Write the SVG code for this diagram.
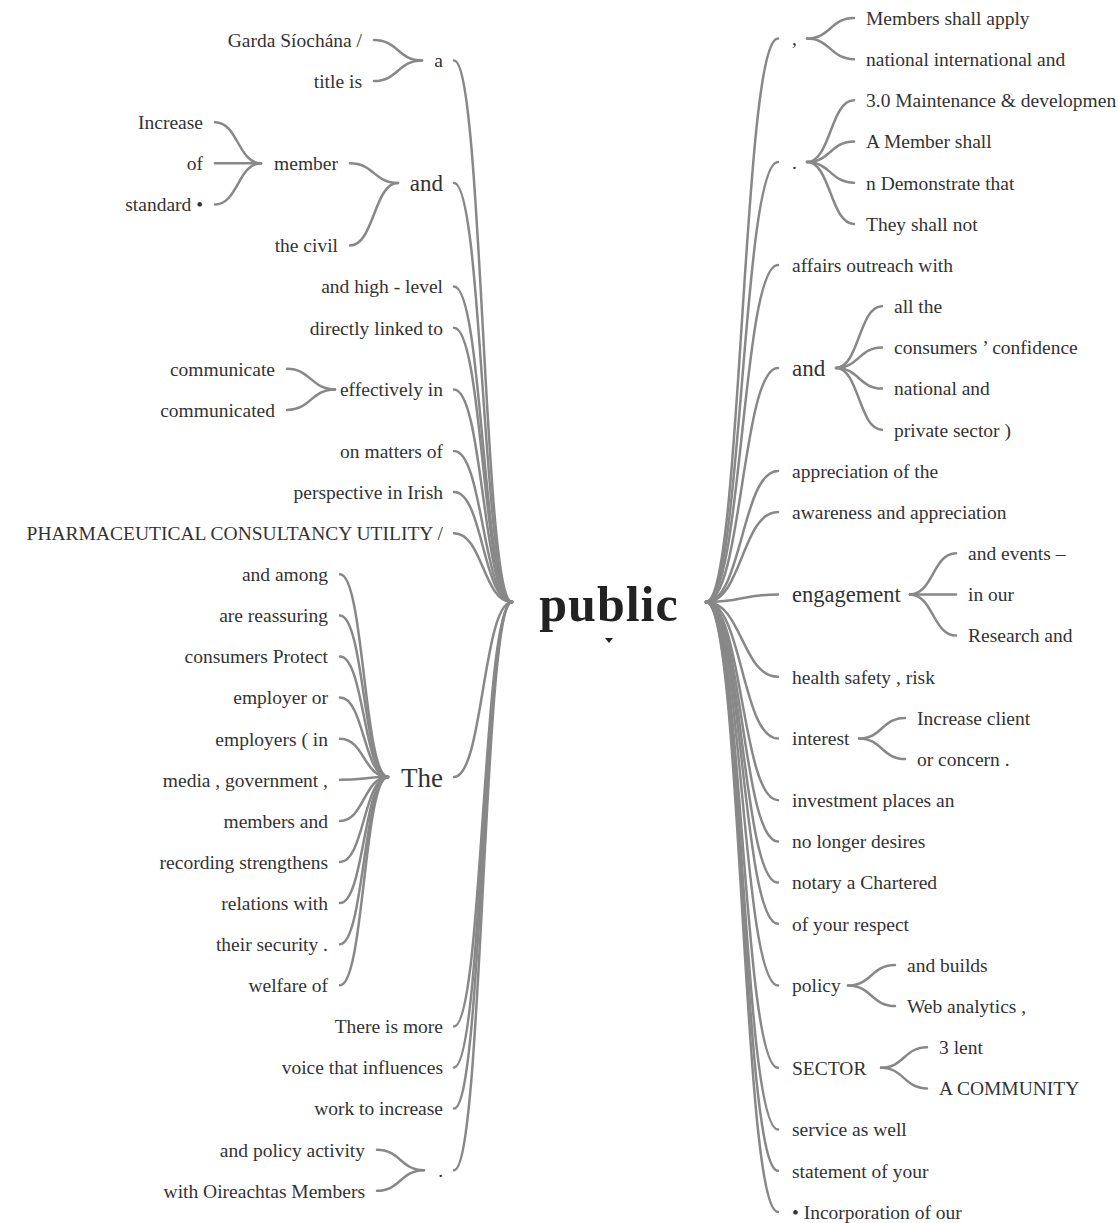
<svg xmlns="http://www.w3.org/2000/svg" width="1118" height="1223" viewBox="0 0 1118 1223">
<style>
text{font-family:"Liberation Serif","DejaVu Serif",serif;font-size:19.5px;fill:#333}
.e{text-anchor:end}
.b23{font-size:23px}
.b22{font-size:22.5px}
.b27{font-size:27px}
.root{font-size:50px;font-weight:bold;fill:#222;text-anchor:middle;letter-spacing:1px}
#links path{fill:none;stroke:#888;stroke-width:2.5;stroke-linecap:round}
</style>
<rect width="1118" height="1223" fill="#fff"/>
<g id="links">
<!-- root to left level 1 -->
<path d="M454,60.5 C483,60.5 483,602 512,602"/>
<path d="M454,183 C483,183 483,602 512,602"/>
<path d="M454,286.6 C483,286.6 483,602 512,602"/>
<path d="M454,327.7 C483,327.7 483,602 512,602"/>
<path d="M454,389.4 C483,389.4 483,602 512,602"/>
<path d="M454,451 C483,451 483,602 512,602"/>
<path d="M454,492.1 C483,492.1 483,602 512,602"/>
<path d="M454,533.2 C483,533.2 483,602 512,602"/>
<path d="M454,777 C483,777 483,602 512,602"/>
<path d="M454,1026.4 C483,1026.4 483,602 512,602"/>
<path d="M454,1067.5 C483,1067.5 483,602 512,602"/>
<path d="M454,1108.6 C483,1108.6 483,602 512,602"/>
<path d="M454,1170.2 C483,1170.2 483,602 512,602"/>
<!-- root to right level 1 -->
<path d="M706,602 C742,602 742,38.6 778,38.6"/>
<path d="M706,602 C742,602 742,162.1 778,162.1"/>
<path d="M706,602 C742,602 742,265 778,265"/>
<path d="M706,602 C742,602 742,367.9 778,367.9"/>
<path d="M706,602 C742,602 742,470.9 778,470.9"/>
<path d="M706,602 C742,602 742,512 778,512"/>
<path d="M706,602 C742,602 742,594.4 778,594.4"/>
<path d="M706,602 C742,602 742,676.7 778,676.7"/>
<path d="M706,602 C742,602 742,738.5 778,738.5"/>
<path d="M706,602 C742,602 742,800.2 778,800.2"/>
<path d="M706,602 C742,602 742,841.4 778,841.4"/>
<path d="M706,602 C742,602 742,882.6 778,882.6"/>
<path d="M706,602 C742,602 742,923.7 778,923.7"/>
<path d="M706,602 C742,602 742,985.5 778,985.5"/>
<path d="M706,602 C742,602 742,1067.8 778,1067.8"/>
<path d="M706,602 C742,602 742,1129.6 778,1129.6"/>
<path d="M706,602 C742,602 742,1170.8 778,1170.8"/>
<path d="M706,602 C742,602 742,1211.9 778,1211.9"/>
<!-- left level 2 -->
<path d="M422,60.5 C398,60.5 398,40 374,40"/>
<path d="M422,60.5 C398,60.5 398,81.1 374,81.1"/>
<path d="M398,183 C374,183 374,163.3 350,163.3"/>
<path d="M398,183 C374,183 374,245.5 350,245.5"/>
<path d="M261,163.3 C238,163.3 238,122.2 215,122.2"/>
<path d="M261,163.3 C238,163.3 238,163.3 215,163.3"/>
<path d="M261,163.3 C238,163.3 238,204.4 215,204.4"/>
<path d="M335,389.4 C311,389.4 311,368.8 287,368.8"/>
<path d="M335,389.4 C311,389.4 311,409.9 287,409.9"/>
<path d="M388,777 C364,777 364,574.3 340,574.3"/>
<path d="M388,777 C364,777 364,615.4 340,615.4"/>
<path d="M388,777 C364,777 364,656.5 340,656.5"/>
<path d="M388,777 C364,777 364,697.6 340,697.6"/>
<path d="M388,777 C364,777 364,738.7 340,738.7"/>
<path d="M388,777 C364,777 364,779.8 340,779.8"/>
<path d="M388,777 C364,777 364,820.9 340,820.9"/>
<path d="M388,777 C364,777 364,862 340,862"/>
<path d="M388,777 C364,777 364,903.1 340,903.1"/>
<path d="M388,777 C364,777 364,944.2 340,944.2"/>
<path d="M388,777 C364,777 364,985.3 340,985.3"/>
<path d="M424,1170.2 C400.5,1170.2 400.5,1149.7 377,1149.7"/>
<path d="M424,1170.2 C400.5,1170.2 400.5,1190.8 377,1190.8"/>
<!-- right level 2 -->
<path d="M807,38.6 C830.5,38.6 830.5,18 854,18"/>
<path d="M807,38.6 C830.5,38.6 830.5,59.2 854,59.2"/>
<path d="M807,162.1 C830.5,162.1 830.5,100.3 854,100.3"/>
<path d="M807,162.1 C830.5,162.1 830.5,141.5 854,141.5"/>
<path d="M807,162.1 C830.5,162.1 830.5,182.7 854,182.7"/>
<path d="M807,162.1 C830.5,162.1 830.5,223.9 854,223.9"/>
<path d="M836,367.9 C859,367.9 859,306.2 882,306.2"/>
<path d="M836,367.9 C859,367.9 859,347.4 882,347.4"/>
<path d="M836,367.9 C859,367.9 859,388.5 882,388.5"/>
<path d="M836,367.9 C859,367.9 859,429.7 882,429.7"/>
<path d="M910,594.4 C933,594.4 933,553.2 956,553.2"/>
<path d="M910,594.4 C933,594.4 933,594.4 956,594.4"/>
<path d="M910,594.4 C933,594.4 933,635.6 956,635.6"/>
<path d="M859,738.5 C882,738.5 882,717.9 905,717.9"/>
<path d="M859,738.5 C882,738.5 882,759.1 905,759.1"/>
<path d="M848,985.5 C871.5,985.5 871.5,964.9 895,964.9"/>
<path d="M848,985.5 C871.5,985.5 871.5,1006.1 895,1006.1"/>
<path d="M881,1067.8 C904,1067.8 904,1047.3 927,1047.3"/>
<path d="M881,1067.8 C904,1067.8 904,1088.4 927,1088.4"/>
</g>
<g id="n-root"><text class="root" x="609" y="621">public</text><polygon points="605,638 613,638 609,643" fill="#222"/></g>
<!-- left side -->
<g id="n-L-a"><text class="e" x="443" y="67.3">a</text></g>
<g id="n-L-a-1"><text class="e" x="362" y="46.8">Garda Síochána /</text></g>
<g id="n-L-a-2"><text class="e" x="362" y="87.9">title is</text></g>
<g id="n-L-and"><text class="e b23" x="443" y="191">and</text></g>
<g id="n-L-member"><text class="e" x="338" y="170.1">member</text></g>
<g id="n-L-member-1"><text class="e" x="203" y="129">Increase</text></g>
<g id="n-L-member-2"><text class="e" x="203" y="170.1">of</text></g>
<g id="n-L-member-3"><text class="e" x="203" y="211.2">standard •</text></g>
<g id="n-L-civil"><text class="e" x="338" y="252.3">the civil</text></g>
<g id="n-L-highlevel"><text class="e" x="443" y="293.4">and high - level</text></g>
<g id="n-L-directly"><text class="e" x="443" y="334.5">directly linked to</text></g>
<g id="n-L-effectively"><text class="e" x="443" y="396.2">effectively in</text></g>
<g id="n-L-eff-1"><text class="e" x="275" y="375.6">communicate</text></g>
<g id="n-L-eff-2"><text class="e" x="275" y="416.7">communicated</text></g>
<g id="n-L-matters"><text class="e" x="443" y="457.8">on matters of</text></g>
<g id="n-L-perspective"><text class="e" x="443" y="498.9">perspective in Irish</text></g>
<g id="n-L-pharma"><text class="e" x="443" y="540">PHARMACEUTICAL CONSULTANCY UTILITY /</text></g>
<g id="n-L-the"><text class="e b27" x="443" y="786.5">The</text></g>
<g id="n-L-the-1"><text class="e" x="328" y="581.1">and among</text></g>
<g id="n-L-the-2"><text class="e" x="328" y="622.2">are reassuring</text></g>
<g id="n-L-the-3"><text class="e" x="328" y="663.3">consumers Protect</text></g>
<g id="n-L-the-4"><text class="e" x="328" y="704.4">employer or</text></g>
<g id="n-L-the-5"><text class="e" x="328" y="745.5">employers ( in</text></g>
<g id="n-L-the-6"><text class="e" x="328" y="786.6">media , government ,</text></g>
<g id="n-L-the-7"><text class="e" x="328" y="827.7">members and</text></g>
<g id="n-L-the-8"><text class="e" x="328" y="868.8">recording strengthens</text></g>
<g id="n-L-the-9"><text class="e" x="328" y="909.9">relations with</text></g>
<g id="n-L-the-10"><text class="e" x="328" y="951">their security .</text></g>
<g id="n-L-the-11"><text class="e" x="328" y="992.1">welfare of</text></g>
<g id="n-L-more"><text class="e" x="443" y="1033.2">There is more</text></g>
<g id="n-L-voice"><text class="e" x="443" y="1074.3">voice that influences</text></g>
<g id="n-L-work"><text class="e" x="443" y="1115.4">work to increase</text></g>
<g id="n-L-dot"><text class="e" x="443" y="1177">.</text></g>
<g id="n-L-dot-1"><text class="e" x="365" y="1156.5">and policy activity</text></g>
<g id="n-L-dot-2"><text class="e" x="365" y="1197.6">with Oireachtas Members</text></g>
<!-- right side -->
<g id="n-R-comma"><text x="792" y="45.4">,</text></g>
<g id="n-R-comma-1"><text x="866" y="24.8">Members shall apply</text></g>
<g id="n-R-comma-2"><text x="866" y="66">national international and</text></g>
<g id="n-R-dot"><text x="792" y="168.9">.</text></g>
<g id="n-R-dot-1"><text x="866" y="107.1">3.0 Maintenance &amp; developmen</text></g>
<g id="n-R-dot-2"><text x="866" y="148.3">A Member shall</text></g>
<g id="n-R-dot-3"><text x="866" y="189.5">n Demonstrate that</text></g>
<g id="n-R-dot-4"><text x="866" y="230.7">They shall not</text></g>
<g id="n-R-affairs"><text x="792" y="271.8">affairs outreach with</text></g>
<g id="n-R-and"><text class="b23" x="792" y="376">and</text></g>
<g id="n-R-and-1"><text x="894" y="313">all the</text></g>
<g id="n-R-and-2"><text x="894" y="354.2">consumers ’ confidence</text></g>
<g id="n-R-and-3"><text x="894" y="395.3">national and</text></g>
<g id="n-R-and-4"><text x="894" y="436.5">private sector )</text></g>
<g id="n-R-appreciation"><text x="792" y="477.7">appreciation of the</text></g>
<g id="n-R-awareness"><text x="792" y="518.8">awareness and appreciation</text></g>
<g id="n-R-engagement"><text class="b22" x="792" y="602.3">engagement</text></g>
<g id="n-R-eng-1"><text x="968" y="560">and events –</text></g>
<g id="n-R-eng-2"><text x="968" y="601.2">in our</text></g>
<g id="n-R-eng-3"><text x="968" y="642.4">Research and</text></g>
<g id="n-R-health"><text x="792" y="683.5">health safety , risk</text></g>
<g id="n-R-interest"><text x="792" y="745.3">interest</text></g>
<g id="n-R-int-1"><text x="917" y="724.7">Increase client</text></g>
<g id="n-R-int-2"><text x="917" y="765.9">or concern .</text></g>
<g id="n-R-investment"><text x="792" y="807">investment places an</text></g>
<g id="n-R-nolonger"><text x="792" y="848.2">no longer desires</text></g>
<g id="n-R-notary"><text x="792" y="889.4">notary a Chartered</text></g>
<g id="n-R-respect"><text x="792" y="930.5">of your respect</text></g>
<g id="n-R-policy"><text x="792" y="992.3">policy</text></g>
<g id="n-R-pol-1"><text x="907" y="971.7">and builds</text></g>
<g id="n-R-pol-2"><text x="907" y="1012.9">Web analytics ,</text></g>
<g id="n-R-sector"><text x="792" y="1074.6">SECTOR</text></g>
<g id="n-R-sec-1"><text x="939" y="1054.1">3 lent</text></g>
<g id="n-R-sec-2"><text x="939" y="1095.2">A COMMUNITY</text></g>
<g id="n-R-service"><text x="792" y="1136.4">service as well</text></g>
<g id="n-R-statement"><text x="792" y="1177.6">statement of your</text></g>
<g id="n-R-incorporation"><text x="792" y="1218.7">• Incorporation of our</text></g>
</svg>
